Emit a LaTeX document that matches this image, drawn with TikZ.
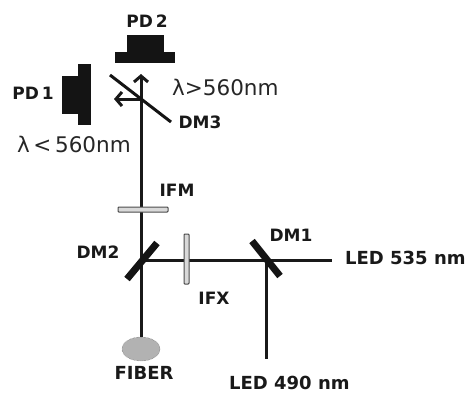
\documentclass[tikz,border=0pt]{standalone}
\usepackage{fontspec}
\setmainfont{DejaVu Sans}
\usetikzlibrary{arrows.meta,shapes.geometric}
\tikzset{
  beam/.style={line width=3pt,black!90},
  mirror/.style={line width=7pt,black!92},
  thinmirror/.style={line width=3pt,black!92},
  filter/.style={draw=black!70,fill=black!15,line width=1pt,rounded corners=.8pt,inner sep=0pt},
  detector/.style={fill=black!92,inner sep=0pt},
  lab/.style={font=\bfseries\fontsize{17}{19}\selectfont,black!90,inner sep=0pt},
  biglab/.style={font=\bfseries\fontsize{18}{20}\selectfont,black!90,inner sep=0pt},
  wave/.style={font=\fontsize{21.5}{24}\selectfont,black!85,inner sep=0pt},
}
\begin{document}
\begin{tikzpicture}[x=1pt,y=-1pt]
\useasboundingbox (0,0) rectangle (466,394);
% The two detectors, each made of two overlapping blocks
\node[detector,minimum width=37pt,minimum height=18pt] (pd2top) at (145.5,44) {};
\node[detector,minimum width=60pt,minimum height=11pt] (pd2base) at (145,57.5) {};
\node[detector,minimum width=13pt,minimum height=61pt] (pd1top) at (84.5,94.5) {};
\node[detector,minimum width=17pt,minimum height=38pt] (pd1base) at (70.5,95) {};
% Points where the beams meet the mirrors
\coordinate (dm1) at (266,260);
\coordinate (dm2) at (141,260);
\coordinate (dm3) at (141,99);
\coordinate (tipup) at (141,74);
\coordinate (tipleft) at (114,99);
\coordinate (led535) at (332,260);
\coordinate (led490) at (266,359);
% The fibre end
\node[draw=black!70,densely dotted,fill=black!30,ellipse,minimum width=38pt,minimum height=24pt,inner sep=0pt] (fiber) at (141,349) {};
% Beams
\draw[beam] (fiber) -- (dm2);
\draw[beam] (dm2) -- (dm1);
\draw[beam] (dm1) -- (led535);
\draw[beam] (dm1) -- (led490);
\draw[beam,-{Straight Barb[length=6pt,width=14pt]}] (dm2) -- (tipup);
\draw[beam,-{Straight Barb[length=6pt,width=14pt]}] (dm3) -- (tipleft);
% Mirrors and filters go over the beams
\coordinate (dm1a) at (252,241);
\coordinate (dm1b) at (280,276);
\coordinate (dm2a) at (127,279);
\coordinate (dm2b) at (157,243);
\coordinate (dm3a) at (110,75);
\coordinate (dm3b) at (171,122);
\draw[mirror] (dm1a) -- (dm1b);
\draw[mirror] (dm2a) -- (dm2b);
\draw[thinmirror] (dm3a) -- (dm3b);
\node[filter,minimum width=50pt,minimum height=5pt] (ifm) at (143,209.5) {};
\node[filter,minimum width=5pt,minimum height=50pt] (ifx) at (186.5,259) {};
% Labels
\node[lab] (pd2lab) at (147,21) {PD\,2};
\node[lab] (pd1lab) at (33,93) {PD\,1};
\node[lab] (dm3lab) at (200,122) {DM3};
\node[lab] (ifmlab) at (177,190) {IFM};
\node[lab] (dm2lab) at (98,252) {DM2};
\node[lab] (dm1lab) at (291,235) {DM1};
\node[lab] (ifxlab) at (214,298) {IFX};
\node[biglab,anchor=west] (led535lab) at (345,258) {LED 535 nm};
\node[biglab,anchor=west] (led490lab) at (229,383) {LED 490 nm};
\node[biglab] (fiberlab) at (144,373) {FIBER};
\node[wave,anchor=west] (longlab) at (172,87) {λ>560nm};
\node[wave,anchor=west] (shortlab) at (17,144) {λ\,<\,560nm};
\end{tikzpicture}
\end{document}
